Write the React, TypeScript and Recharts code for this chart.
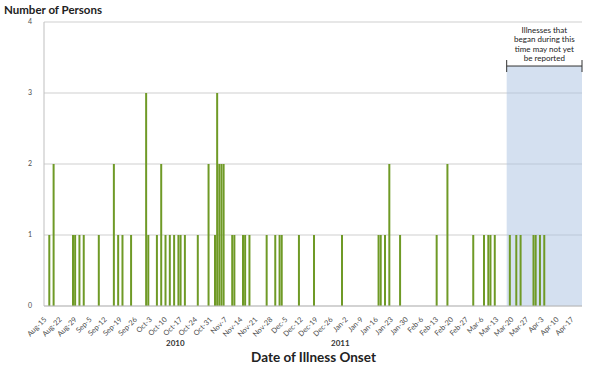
import React from "react"
import { BarChart, Bar, XAxis, YAxis, CartesianGrid, ReferenceArea } from "recharts"

// daily axis: Aug 15 2010 .. Apr 21 2011
const axisStart = [2010, 7, 15]
const dayCount = 250

// onset dates with at least one case, and the number of persons on that day
const caseDates = [
  "2010-08-17", "2010-08-19", "2010-08-28", "2010-08-29", "2010-08-31", "2010-09-02",
  "2010-09-09", "2010-09-16", "2010-09-18", "2010-09-20", "2010-09-24", "2010-10-01",
  "2010-10-02", "2010-10-06", "2010-10-08", "2010-10-10", "2010-10-12", "2010-10-14",
  "2010-10-16", "2010-10-17", "2010-10-19", "2010-10-25", "2010-10-30", "2010-11-02",
  "2010-11-03", "2010-11-04", "2010-11-05", "2010-11-06", "2010-11-10", "2010-11-11",
  "2010-11-15", "2010-11-16", "2010-11-18", "2010-11-26", "2010-11-30", "2010-12-02",
  "2010-12-03", "2010-12-11", "2010-12-18", "2010-12-31", "2011-01-17", "2011-01-18",
  "2011-01-20", "2011-01-22", "2011-01-27", "2011-02-13", "2011-02-18", "2011-03-02",
  "2011-03-07", "2011-03-09", "2011-03-10", "2011-03-12", "2011-03-19", "2011-03-22",
  "2011-03-24", "2011-03-30", "2011-03-31", "2011-04-02", "2011-04-04",
]
const caseCounts = [
  1, 2, 1, 1, 1, 1,
  1, 2, 1, 1, 1, 3,
  1, 1, 2, 1, 1, 1,
  1, 1, 1, 1, 2, 1,
  3, 2, 2, 2, 1, 1,
  1, 1, 1, 1, 1, 1,
  1, 1, 1, 1, 1, 1,
  1, 2, 1, 1, 2, 1,
  1, 1, 1, 1, 1, 1,
  1, 1, 1, 1, 1,
]

const yTicks = [0, 1, 2, 3, 4]
const lagStart = "2011-03-18"
const lagTop = 3.38
const noteLines = ["Illnesses that", "began during this", "time may not yet", "be reported"]
const months = ["Jan", "Feb", "Mar", "Apr", "May", "Jun", "Jul", "Aug", "Sep", "Oct", "Nov", "Dec"]

const iso = (d: Date) => d.toISOString().slice(0, 10)

const counts: Record<string, number> = {}
caseDates.forEach((d, i) => (counts[d] = caseCounts[i]))

const data = Array.from({ length: dayCount }, (_, i) => {
  const d = new Date(Date.UTC(axisStart[0], axisStart[1], axisStart[2] + i))
  return { day: iso(d), persons: counts[iso(d)] ?? 0 }
})
const lastDay = data[data.length - 1].day

const fmtDay = (s: string) => {
  const d = new Date(s + "T00:00:00Z")
  return `${months[d.getUTCMonth()]}-${d.getUTCDate()}`
}

const font = "Lato, 'Open Sans', sans-serif"

const DateTick = ({ x, y, payload }: any) => (
  <text
    x={x + 2}
    y={y + 6}
    transform={`rotate(-45 ${x + 2} ${y + 6})`}
    textAnchor="end"
    fontSize={7.3}
    fontFamily={font}
    fill="#4d4d4d"
  >
    {fmtDay(payload.value)}
  </text>
)

// bracket + note drawn on top of the shaded (not yet reported) window
const LagNote = (props: any) => {
  const vb = props.viewBox || {}
  const { x, y, width } = vb
  if (x == null || y == null) return null
  const cx = x + width / 2
  return (
    <g>
      <line x1={x} y1={y} x2={x + width} y2={y} stroke="#333" strokeWidth={1} />
      <line x1={x} y1={y - 6} x2={x} y2={y + 6} stroke="#333" strokeWidth={1} />
      <line x1={x + width} y1={y - 6} x2={x + width} y2={y + 6} stroke="#333" strokeWidth={1} />
      {noteLines.map((t, i) => (
        <text key={t} x={cx} y={y - 33 + i * 9.3} textAnchor="middle" fontSize={8} fontFamily={font} fill="#222">
          {t}
        </text>
      ))}
    </g>
  )
}

export default function App() {
  return (
    <div style={{ position: "absolute", left: 0, top: 0, width: 600, height: 374, background: "#fff", fontFamily: font }}>
      <BarChart
        width={600}
        height={374}
        data={data}
        margin={{ top: 22, right: 18, left: 24, bottom: 28 }}
        barSize={2}
      >
        <CartesianGrid vertical={false} stroke="#cfcfcf" />
        <XAxis
          dataKey="day"
          type="category"
          allowDuplicatedCategory={false}
          interval={6}
          height={40}
          tick={<DateTick />}
          tickLine={false}
          axisLine={{ stroke: "#bfbfbf" }}
        />
        <YAxis
          width={20}
          domain={[0, 4]}
          ticks={yTicks}
          tickLine={false}
          tickSize={0}
          tickMargin={12}
          axisLine={{ stroke: "#bfbfbf" }}
          tick={{ fontSize: 7, fill: "#4d4d4d", fontFamily: font }}
        />
        <ReferenceArea
          x1={lagStart}
          x2={lastDay}
          y1={0}
          y2={lagTop}
          ifOverflow="visible"
          fill="#a9c1e2"
          fillOpacity={0.5}
          stroke="none"
          label={(p: any) => <LagNote {...p} />}
        />
        <Bar dataKey="persons" fill="#6f9a26" isAnimationActive={false} />
      </BarChart>
      <div style={{ position: "absolute", left: 4, top: 3, fontSize: 11.5, fontWeight: 700, color: "#222" }}>
        Number of Persons
      </div>
      <div style={{ position: "absolute", left: 166, top: 338, fontSize: 8, fontWeight: 700, color: "#333" }}>2010</div>
      <div style={{ position: "absolute", left: 331, top: 338, fontSize: 8, fontWeight: 700, color: "#333" }}>2011</div>
      <div style={{ position: "absolute", left: 0, width: 627, top: 349, textAlign: "center", fontSize: 13.5, fontWeight: 700, color: "#222" }}>
        Date of Illness Onset
      </div>
    </div>
  )
}
